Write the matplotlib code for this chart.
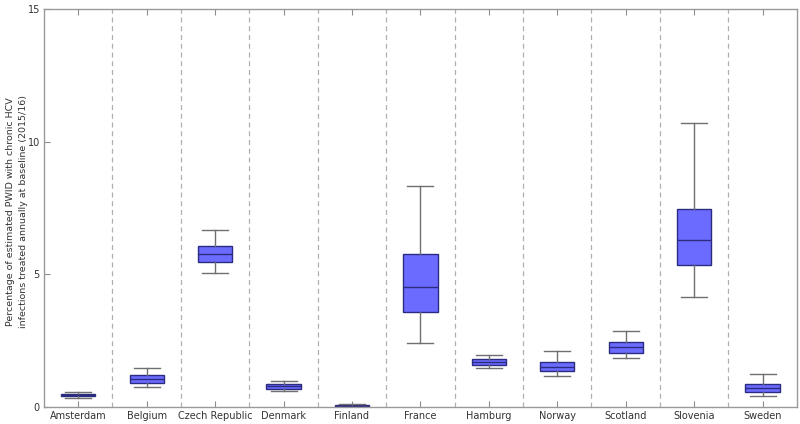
import matplotlib.pyplot as plt

# Box statistics (percent treated annually)
sites = ['Amsterdam', 'Belgium', 'Czech Republic', 'Denmark', 'Finland', 'France',
         'Hamburg', 'Norway', 'Scotland', 'Slovenia', 'Sweden']
whis_lo = [0.33, 0.75, 5.05, 0.60, 0.00, 2.42, 1.47, 1.17, 1.85, 4.16, 0.41]
q1      = [0.40, 0.90, 5.47, 0.68, 0.02, 3.59, 1.58, 1.36, 2.04, 5.36, 0.57]
med     = [0.45, 1.05, 5.77, 0.78, 0.05, 4.51, 1.70, 1.52, 2.25, 6.28, 0.70]
q3      = [0.50, 1.20, 6.07, 0.87, 0.07, 5.78, 1.81, 1.70, 2.45, 7.46, 0.87]
whis_hi = [0.57, 1.47, 6.67, 0.98, 0.10, 8.33, 1.96, 2.11, 2.86, 10.72, 1.24]

stats = []
for i in range(len(sites)):
    stats.append({'label': sites[i], 'whislo': whis_lo[i], 'q1': q1[i], 'med': med[i],
                  'q3': q3[i], 'whishi': whis_hi[i], 'fliers': []})

fig = plt.figure(figsize=(8, 4.24), dpi=100)
ax = fig.add_axes([0.055, 0.040, 0.941, 0.939])

grey = '#8c8c8c'
pos = list(range(1, len(sites) + 1))
ax.bxp(stats, positions=pos, widths=0.5, patch_artist=True, showfliers=False,
       boxprops=dict(facecolor='#6b6bff', edgecolor='#2b2b80', linewidth=1.0),
       medianprops=dict(color='#2b2b80', linewidth=1.0),
       whiskerprops=dict(color='#707070', linewidth=1.0),
       capprops=dict(color='#707070', linewidth=1.0),
       capwidths=0.38)

for x in range(1, len(sites)):
    ax.axvline(x + 0.5, color='#b0b0b0', linestyle=(0, (4, 3)), linewidth=0.9, zorder=0)

ax.set_xlim(0.5, len(sites) + 0.5)
ax.set_ylim(0, 15)
ax.set_yticks([0, 5, 10, 15])
ax.set_xticks(pos)
ax.set_xticklabels(sites)
ax.tick_params(axis='both', direction='in', colors=grey, labelcolor='#333333',
               labelsize=7, length=4, top=True, right=False, pad=3)
for s in ax.spines.values():
    s.set_color('#999999')
    s.set_linewidth(1.0)

ax.set_ylabel('Percentage of estimated PWID with chronic HCV\n'
              'infections treated annually at baseline (2015/16)',
              fontsize=6.8, color='#333333', linespacing=1.5, va='center')
ax.yaxis.set_label_coords(-0.036, 0.49)

fig.savefig('out.png', dpi=100)
